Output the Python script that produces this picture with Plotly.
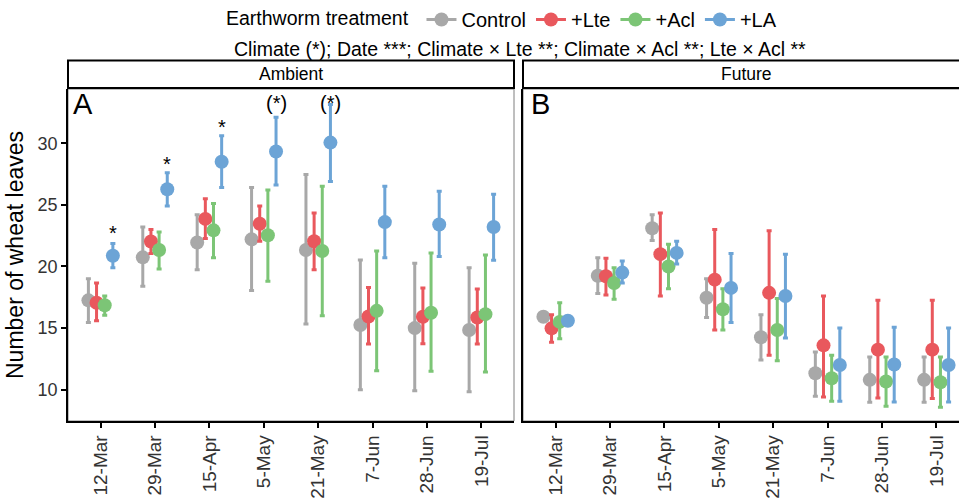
import plotly.graph_objects as go

dates = ["12-Mar", "29-Mar", "15-Apr", "5-May", "21-May", "7-Jun", "28-Jun", "19-Jul"]
treatments = ["Control", "+Lte", "+Acl", "+LA"]
colors = ["#A8A8A8", "#E9585D", "#7CC576", "#6CA4D6"]
dodge = [-0.225, -0.075, 0.075, 0.225]

ambient_mean = {
    "Control": [17.25, 20.74, 21.94, 22.2, 21.33, 15.25, 15.0, 14.85],
    "+Lte":    [17.06, 22.03, 23.86, 23.46, 22.05, 15.94, 15.92, 15.86],
    "+Acl":    [16.85, 21.33, 22.93, 22.53, 21.25, 16.4, 16.24, 16.13],
    "+LA":     [20.87, 26.26, 28.5, 29.33, 30.05, 23.6, 23.4, 23.2],
}
ambient_low = {
    "Control": [15.46, 18.4, 19.73, 18.05, 15.33, 10.0, 9.92, 9.84],
    "+Lte":    [15.6, 21.06, 22.26, 22.05, 19.73, 13.7, 13.73, 13.7],
    "+Acl":    [16.05, 19.8, 20.7, 18.8, 16.0, 11.54, 11.5, 11.44],
    "+LA":     [19.9, 24.9, 26.4, 26.6, 26.9, 20.7, 20.8, 20.5],
}
ambient_high = {
    "Control": [19.0, 23.2, 24.2, 26.4, 27.46, 20.53, 20.26, 19.9],
    "+Lte":    [18.66, 23.0, 25.5, 24.9, 24.34, 18.3, 18.26, 18.18],
    "+Acl":    [17.6, 22.8, 25.1, 26.2, 26.5, 21.25, 21.1, 20.93],
    "+LA":     [21.86, 27.6, 30.6, 32.1, 33.15, 26.5, 26.1, 25.86],
}
future_mean = {
    "Control": [15.92, 19.25, 23.1, 17.46, 14.26, 11.33, 10.8, 10.8],
    "+Lte":    [14.98, 19.2, 21.0, 18.93, 17.86, 13.6, 13.25, 13.25],
    "+Acl":    [15.5, 18.66, 20.0, 16.53, 14.85, 10.93, 10.66, 10.6],
    "+LA":     [15.6, 19.5, 21.1, 18.26, 17.6, 12.0, 12.05, 12.0],
}
future_low = {
    "Control": [15.7, 17.8, 22.1, 15.86, 12.4, 9.46, 8.98, 8.98],
    "+Lte":    [13.86, 17.68, 17.6, 14.85, 12.8, 9.4, 9.33, 9.28],
    "+Acl":    [14.13, 17.33, 18.2, 14.85, 12.34, 9.06, 8.66, 8.58],
    "+LA":     [15.3, 18.66, 20.2, 15.46, 14.2, 9.06, 9.0, 9.0],
}
future_high = {
    "Control": [16.2, 20.7, 24.2, 19.0, 16.08, 13.06, 12.66, 12.66],
    "+Lte":    [16.08, 20.66, 24.34, 23.0, 22.9, 17.6, 17.25, 17.25],
    "+Acl":    [17.06, 19.9, 21.8, 18.2, 17.4, 12.8, 12.66, 12.66],
    "+LA":     [15.9, 20.45, 22.05, 21.06, 21.0, 15.0, 15.06, 15.0],
}
y_ticks = [10, 15, 20, 25, 30]

sig_date_idx = [0, 1, 2, 3, 4]
sig_labels = ["*", "*", "*", "(*)", "(*)"]
sig_y = [22.7, 28.3, 31.35, 33.3, 33.3]

FONT = "Arial, Liberation Sans, sans-serif"

fig = go.Figure()

panels = [("x", ambient_mean, ambient_low, ambient_high),
          ("x2", future_mean, future_low, future_high)]
for xa, means, lows, highs in panels:
    for k, t in enumerate(treatments):
        m = means[t]
        lo = lows[t]
        hi = highs[t]
        fig.add_trace(go.Scatter(
            x=[i + dodge[k] for i in range(len(dates))],
            y=m,
            mode="markers",
            marker=dict(color=colors[k], size=14, line=dict(width=0)),
            error_y=dict(type="data", symmetric=False,
                         array=[h - v for h, v in zip(hi, m)],
                         arrayminus=[v - l for v, l in zip(m, lo)],
                         color=colors[k], thickness=3, width=2.5),
            xaxis=xa, yaxis="y" if xa == "x" else "y2",
            showlegend=False, hoverinfo="skip",
        ))

for k, t in enumerate(treatments):
    fig.add_trace(go.Scatter(
        x=[None], y=[None], mode="lines+markers", name=t,
        marker=dict(color=colors[k], size=14),
        line=dict(color=colors[k], width=3),
        xaxis="x", yaxis="y", showlegend=True,
    ))

for idx, lab, yv in zip(sig_date_idx, sig_labels, sig_y):
    fig.add_annotation(x=idx + dodge[3], y=yv, xref="x", yref="y", text=lab,
                       showarrow=False, font=dict(size=20, color="black", family=FONT),
                       xanchor="center", yanchor="middle")

# geometry (pixels)
L, T, B = 68, 88, 74
W, H = 959, 499
pw = W - L
ph = H - T - B
a_dom = [0, (514 - L) / pw]
b_dom = [(523 - L) / pw, 1.0]
units_per_px = 8.2 / (514 - L)
b_range = [-0.6, -0.6 + (W - 523) * units_per_px]

def py(p):
    return (H - B - p) / ph

def px(p):
    return (p - L) / pw

axis_common = dict(
    tickvals=list(range(len(dates))), ticktext=dates, tickangle=-90,
    ticks="outside", ticklen=5, tickwidth=1.5, tickcolor="black",
    showline=True, linecolor="black", linewidth=1.5,
    showgrid=False, zeroline=False,
    tickfont=dict(size=19, color="#333333", family=FONT),
)

fig.update_layout(
    width=W, height=H,
    margin=dict(l=L, r=0, t=T, b=B, pad=0),
    plot_bgcolor="white", paper_bgcolor="white",
    font=dict(family=FONT, color="black"),
    xaxis=dict(domain=a_dom, range=[-0.6, 7.6], anchor="y", **axis_common),
    xaxis2=dict(domain=b_dom, range=b_range, anchor="y2", **axis_common),
    yaxis=dict(domain=[0, 1], range=[7.46, 34.4], anchor="x",
               tickvals=y_ticks, ticks="outside", ticklen=5, tickwidth=1.5,
               tickcolor="black", showline=True, linecolor="black", linewidth=1.5,
               showgrid=False, zeroline=False,
               tickfont=dict(size=18, color="#333333", family=FONT),
               title=dict(text="Number of wheat leaves", font=dict(size=23, family=FONT),
                          standoff=8)),
    yaxis2=dict(domain=[0, 1], matches="y", anchor="x2", showticklabels=False,
                ticks="", showline=True, linecolor="black", linewidth=1.5,
                showgrid=False, zeroline=False),
    legend=dict(orientation="h", x=px(224), xanchor="left",
                y=py(17), yanchor="middle",
                title=dict(text="Earthworm treatment ", side="left",
                           font=dict(size=19.5, family=FONT)),
                font=dict(size=20, family=FONT), itemwidth=30,
                bgcolor="rgba(0,0,0,0)"),
    showlegend=True,
)

# panel borders (grey)
fig.add_shape(type="rect", xref="paper", yref="paper", x0=a_dom[0], x1=a_dom[1],
              y0=0, y1=1, line=dict(color="#7f7f7f", width=1), layer="below")
fig.add_shape(type="rect", xref="paper", yref="paper", x0=b_dom[0], x1=1.05,
              y0=0, y1=1, line=dict(color="#7f7f7f", width=1), layer="below")

# strips
for x0, x1 in [(a_dom[0], a_dom[1]), (b_dom[0], 1.05)]:
    fig.add_shape(type="rect", xref="paper", yref="paper", x0=x0, x1=x1,
                  y0=py(87), y1=py(59), fillcolor="white",
                  line=dict(color="black", width=2))
a_center = (a_dom[0] + a_dom[1]) / 2
b_center = px((523 + 970) / 2)
fig.add_annotation(x=a_center, y=py(73), xref="paper", yref="paper", text="Ambient",
                   showarrow=False, font=dict(size=17.5, family=FONT),
                   xanchor="center", yanchor="middle")
fig.add_annotation(x=b_center, y=py(73), xref="paper", yref="paper", text="Future",
                   showarrow=False, font=dict(size=17.5, family=FONT),
                   xanchor="center", yanchor="middle")

# panel letters
fig.add_annotation(x=px(71), y=py(103), xref="paper", yref="paper", text="A",
                   showarrow=False, xanchor="left", yanchor="middle",
                   font=dict(size=29, family=FONT))
fig.add_annotation(x=px(529), y=py(103), xref="paper", yref="paper", text="B",
                   showarrow=False, xanchor="left", yanchor="middle",
                   font=dict(size=29, family=FONT))

# subtitle
fig.add_annotation(x=px(520), y=py(47), xref="paper", yref="paper",
                   text="Climate (*); Date ***; Climate × Lte **; Climate × Acl **; Lte × Acl **",
                   showarrow=False, font=dict(size=19.5, family=FONT),
                   xanchor="center", yanchor="middle")

fig.write_html("out.html")
